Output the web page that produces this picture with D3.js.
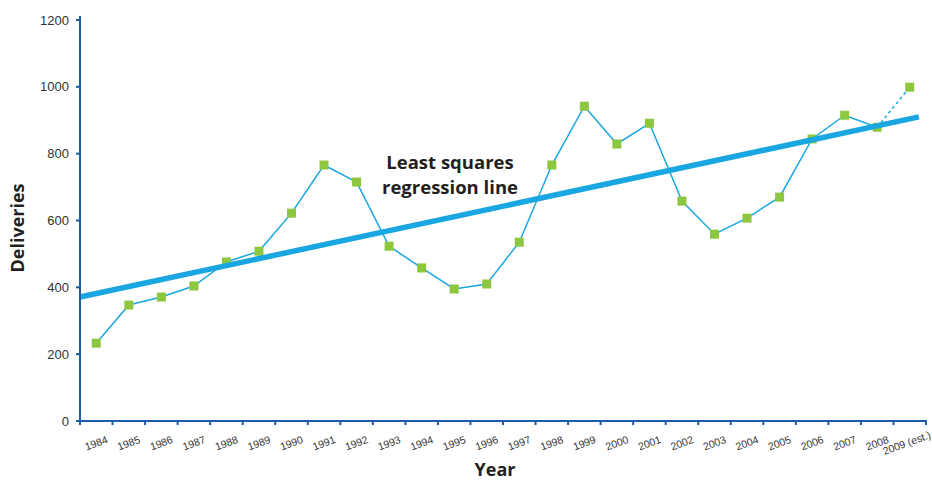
<!DOCTYPE html>
<html>
<head>
<meta charset="utf-8">
<script src="https://cdn.jsdelivr.net/npm/d3@7"></script>
<style>
  body { margin: 0; background: #fff; }
  svg { display: block; }
</style>
</head>
<body>
<div id="chart"></div>
<script>
// values
var years = ["1984","1985","1986","1987","1988","1989","1990","1991","1992","1993","1994","1995","1996",
             "1997","1998","1999","2000","2001","2002","2003","2004","2005","2006","2007","2008","2009 (est.)"];
var deliveries = [233, 347, 371, 404, 476, 508, 622, 766, 715, 523, 458, 395, 410,
                  535, 766, 942, 829, 891, 658, 559, 607, 670, 844, 915, 879, 999];
// regression line ends, as [band position, value]
var regression = [[-0.5, 371], [25.28, 910]];
var yTicks = [0, 200, 400, 600, 800, 1000, 1200];

var w = 932, h = 480,
    padL = 80, padR = 926, padT = 20, padB = 421;

var blue = "#1aa7e1", green = "#8dc63f", axisColor = "#1d5ca8";

var svg = d3.select("#chart").append("svg")
    .attr("width", w).attr("height", h);

var x = d3.scaleBand().domain(years).range([padL, padR]);
var pos = d3.scaleLinear().domain([-0.5, years.length - 0.5]).range([padL, padR]);
var y = d3.scaleLinear().domain([0, 1200]).range([padB, padT]);

var cx = function(d, i) { return x(years[i]) + x.bandwidth() / 2; };

// data line (last segment is the estimate, dotted)
var pts = deliveries.map(function(v, i) { return [cx(v, i), y(v)]; });
var line = d3.line();

svg.append("path")
    .attr("d", line(pts.slice(0, pts.length - 1)))
    .attr("fill", "none")
    .attr("stroke", blue)
    .attr("stroke-width", 1.5);

svg.append("path")
    .attr("d", line(pts.slice(pts.length - 2)))
    .attr("fill", "none")
    .attr("stroke", blue)
    .attr("stroke-width", 1.5)
    .attr("stroke-dasharray", "3,3");

svg.selectAll("rect.pt")
    .data(deliveries)
    .enter().append("rect")
    .attr("class", "pt")
    .attr("x", function(d, i) { return cx(d, i) - 4.5; })
    .attr("y", function(d) { return y(d) - 4.5; })
    .attr("width", 9).attr("height", 9)
    .attr("fill", green);

// regression line
svg.append("line")
    .attr("x1", pos(regression[0][0])).attr("y1", y(regression[0][1]))
    .attr("x2", pos(regression[1][0])).attr("y2", y(regression[1][1]))
    .attr("stroke", blue)
    .attr("stroke-width", 5.5);

// y axis
var yAxis = svg.append("g");
yAxis.append("line")
    .attr("x1", padL).attr("x2", padL)
    .attr("y1", padT - 4).attr("y2", padB)
    .attr("stroke", axisColor).attr("stroke-width", 2);
yAxis.selectAll("line.tk")
    .data(yTicks).enter().append("line")
    .attr("class", "tk")
    .attr("x1", padL - 4).attr("x2", padL)
    .attr("y1", function(d) { return y(d); })
    .attr("y2", function(d) { return y(d); })
    .attr("stroke", axisColor).attr("stroke-width", 2);
yAxis.selectAll("text")
    .data(yTicks).enter().append("text")
    .attr("x", padL - 11)
    .attr("y", function(d) { return y(d); })
    .attr("dy", "0.35em")
    .attr("text-anchor", "end")
    .attr("font-family", "Liberation Sans, Arial, sans-serif")
    .attr("font-size", 13)
    .attr("fill", "#333")
    .text(function(d) { return d; });

// x axis, ticks on band edges
var xAxis = svg.append("g");
xAxis.append("line")
    .attr("x1", padL - 1).attr("x2", padR + 1)
    .attr("y1", padB).attr("y2", padB)
    .attr("stroke", axisColor).attr("stroke-width", 2);
xAxis.selectAll("line.tk")
    .data(d3.range(years.length + 1)).enter().append("line")
    .attr("class", "tk")
    .attr("x1", function(d) { return pos(d - 0.5); })
    .attr("x2", function(d) { return pos(d - 0.5); })
    .attr("y1", padB).attr("y2", padB + 4)
    .attr("stroke", axisColor).attr("stroke-width", 2);
xAxis.selectAll("text")
    .data(years).enter().append("text")
    .attr("transform", function(d, i) {
        var dx = i === years.length - 1 ? -3 : 0;
        return "translate(" + (x(d) + x.bandwidth() / 2 + dx) + "," + (padB + 22) + ") rotate(-20)";
    })
    .attr("dy", "0.35em")
    .attr("text-anchor", "middle")
    .attr("font-family", "Liberation Sans, Arial, sans-serif")
    .attr("font-size", 10.5)
    .attr("fill", "#333")
    .text(function(d) { return d; });

// titles
svg.append("text")
    .attr("transform", "translate(24," + 228 + ") rotate(-90)")
    .attr("text-anchor", "middle")
    .attr("font-family", "Open Sans, sans-serif")
    .attr("font-weight", "bold")
    .attr("font-size", 18)
    .attr("fill", "#231f20")
    .text("Deliveries");

svg.append("text")
    .attr("x", 495).attr("y", 476)
    .attr("text-anchor", "middle")
    .attr("font-family", "Open Sans, sans-serif")
    .attr("font-weight", "bold")
    .attr("font-size", 18)
    .attr("fill", "#231f20")
    .text("Year");

var note = svg.append("text")
    .attr("text-anchor", "middle")
    .attr("font-family", "Open Sans, sans-serif")
    .attr("font-weight", "bold")
    .attr("font-size", 18.5)
    .attr("fill", "#231f20");
note.append("tspan").attr("x", 450).attr("y", 169).text("Least squares");
note.append("tspan").attr("x", 450).attr("y", 194).text("regression line");
</script>
</body>
</html>
